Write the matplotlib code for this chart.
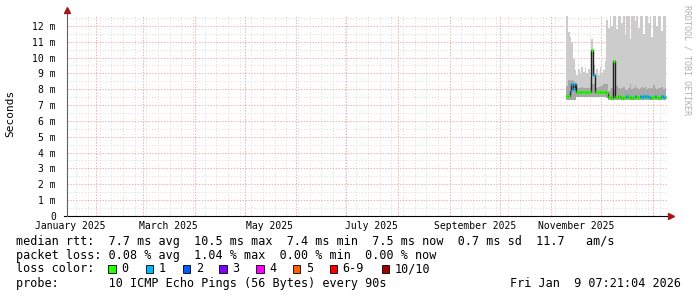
import numpy as np
import matplotlib
matplotlib.use("Agg")
import matplotlib.pyplot as plt
import matplotlib.dates as mdates
from matplotlib.patches import Rectangle
from matplotlib.ticker import MultipleLocator, FuncFormatter

# graph window: last 360 days up to the timestamp in the legend
t_start = np.datetime64("2025-01-14T07:21:04")
t_end = np.datetime64("2026-01-09T07:21:04")

# one sample per day from this day on
first_day = np.datetime64("2025-11-10")

# median rtt in ms
rtt_median = [7.55, 7.6, 7.9, 8.3, 8.0, 8.35, 7.85, 7.85, 7.8, 7.85,
              7.85, 7.8, 7.85, 7.85, 7.8, 10.5, 8.9, 7.85, 7.8, 7.85,
              7.85, 7.8, 7.85, 7.8, 7.75, 7.5, 7.5, 7.45, 9.8, 7.5,
              7.5, 7.55, 7.5, 7.45, 7.5, 7.5, 7.55, 7.5, 7.5, 7.45,
              7.5, 7.55, 7.5, 7.5, 7.55, 7.5, 7.55, 7.5, 7.55, 7.5,
              7.45, 7.5, 7.5, 7.55, 7.5, 7.45, 7.5, 7.55, 7.5, 7.5]
# loss bin index per sample (0 = no loss, 1 = 1/10)
rtt_loss = [0, 0, 1, 1, 1, 1, 0, 0, 0, 0,
            0, 0, 0, 0, 0, 0, 1, 0, 0, 0,
            0, 0, 0, 0, 0, 0, 0, 0, 0, 0,
            0, 0, 0, 0, 0, 0, 1, 0, 0, 0,
            0, 1, 0, 0, 1, 1, 1, 0, 1, 1,
            0, 0, 0, 1, 0, 0, 0, 1, 1, 0]
# smoke: lowest ping, upper edge of dense band, highest ping (ms)
smoke_min = [7.3, 7.3, 7.3, 7.3, 7.3, 7.3, 7.5, 7.5, 7.5, 7.5,
             7.5, 7.5, 7.5, 7.5, 7.5, 7.5, 7.5, 7.5, 7.5, 7.5,
             7.5, 7.5, 7.5, 7.5, 7.45, 7.35, 7.35, 7.35, 7.35, 7.35,
             7.35, 7.35, 7.35, 7.35, 7.35, 7.35, 7.35, 7.35, 7.35, 7.35,
             7.35, 7.35, 7.35, 7.35, 7.35, 7.35, 7.35, 7.35, 7.35, 7.35,
             7.35, 7.35, 7.35, 7.35, 7.35, 7.35, 7.35, 7.35, 7.35, 7.35]
smoke_mid = [8.2, 8.6, 8.5, 8.6, 8.5, 8.4, 8.1, 8.05, 8.1, 8.15,
             8.1, 8.05, 8.1, 8.1, 8.15, 8.3, 8.3, 8.1, 8.1, 8.15,
             8.2, 8.2, 8.3, 8.35, 8.3, 7.9, 8.0, 8.1, 7.95, 8.0,
             8.2, 8.05, 8.0, 8.1, 8.15, 8.0, 7.95, 8.05, 8.3, 8.0,
             8.1, 8.2, 8.05, 8.0, 8.1, 8.15, 8.05, 8.2, 8.0, 8.1,
             8.0, 8.05, 8.25, 8.1, 8.0, 8.05, 8.1, 8.15, 8.0, 8.1]
smoke_max = [12.6, 11.6, 11.3, 11.0, 9.9, 9.2, 8.9, 9.3, 9.0, 9.4,
             9.1, 9.4, 9.0, 9.3, 8.8, 11.2, 9.5, 9.0, 9.3, 8.9,
             9.4, 9.0, 9.2, 9.8, 12.4, 11.9, 12.6, 12.0, 12.6, 12.6,
             11.8, 12.6, 12.6, 12.2, 12.6, 11.4, 12.6, 12.6, 11.2, 12.6,
             12.6, 12.3, 12.6, 11.9, 12.6, 12.6, 11.5, 12.6, 12.6, 12.2,
             12.6, 11.3, 12.6, 12.6, 12.0, 12.6, 12.6, 11.7, 12.6, 12.6]

month_labels = ["January 2025", "March 2025", "May 2025", "July 2025",
                "September 2025", "November 2025"]
month_label_days = ["2025-01-16", "2025-03-16", "2025-05-16", "2025-07-16",
                    "2025-09-16", "2025-11-16"]

loss_names = ["0", "1", "2", "3", "4", "5", "6-9", "10/10"]
loss_colors = ["#26ff00", "#00b8ff", "#0059ff", "#7e00ff",
               "#ff00ff", "#ff5e00", "#ff0000", "#a10000"]

median_line = "median rtt:  7.7 ms avg  10.5 ms max  7.4 ms min  7.5 ms now  0.7 ms sd  11.7   am/s"
loss_line = "packet loss: 0.08 % avg  1.04 % max  0.00 % min  0.00 % now"
probe_line = "probe:       10 ICMP Echo Pings (56 Bytes) every 90s"
stamp = "Fri Jan  9 07:21:04 2026"

MONO = "DejaVu Sans Mono"
W, H = 697, 297


def fx(x):
    return x / W


def fy(y):
    return 1 - y / H


fig = plt.figure(figsize=(W / 100, H / 100), dpi=100)
ax = fig.add_axes([fx(67), fy(215.8), 600 / W, 200 / H])
ax.set_xlim(mdates.date2num(t_start), mdates.date2num(t_end))
ax.set_ylim(0, 12.64)

edges = mdates.date2num(first_day + np.arange(len(rtt_median) + 1).astype("timedelta64[D]"))

# smoke
ax.stairs(smoke_max, edges, baseline=smoke_min, fill=True, color="#cccccc", lw=0, zorder=2)
ax.stairs(smoke_mid, edges, baseline=smoke_min, fill=True, color="#a8a8a8", lw=0, zorder=2)
# median: thin dark line, loss-coloured caps
ax.stairs(rtt_median, edges, baseline=None, color="#202020", lw=1.0, zorder=3)
ax.hlines(rtt_median, edges[:-1], edges[1:], colors=[loss_colors[l] for l in rtt_loss],
          lw=2.3, zorder=4)

# grid
ax.xaxis.set_major_locator(mdates.MonthLocator())
ax.xaxis.set_minor_locator(mdates.WeekdayLocator(byweekday=mdates.MO))
ax.yaxis.set_major_locator(MultipleLocator(1))
ax.yaxis.set_minor_locator(MultipleLocator(0.5))
ax.grid(which="major", color="#f2b0b0", lw=0.7, ls=(0, (1.5, 1.5)), zorder=1)
ax.grid(which="minor", color="#dadada", lw=0.7, ls=(0, (1, 2)), zorder=1)
ax.set_axisbelow(True)
ax.tick_params(axis="x", which="both", length=0, labelbottom=False)
ax.tick_params(axis="y", which="both", length=0, pad=8, labelsize=7)
ax.yaxis.set_major_formatter(FuncFormatter(lambda v, _: "0" if v == 0 else f"{v:.0f} m"))
for lab in ax.get_yticklabels():
    lab.set_family(MONO)
for s in ax.spines.values():
    s.set_visible(False)

# axes with arrows
ax.plot([-0.005, 1.006], [0, 0], transform=ax.transAxes, color="#000000", lw=0.8, clip_on=False, zorder=5)
ax.plot([1.006], [0], transform=ax.transAxes, marker=">", ms=4, color="#a01818", clip_on=False, zorder=5)
ax.plot([0, 0], [0, 1.027], transform=ax.transAxes, color="#606060", lw=0.8, clip_on=False, zorder=5)
ax.plot([0], [1.027], transform=ax.transAxes, marker="^", ms=4, color="#a01818", clip_on=False, zorder=5)

for lab, day in zip(month_labels, month_label_days):
    ax.text(mdates.date2num(np.datetime64(day)), -0.05, lab, transform=ax.get_xaxis_transform(),
            ha="center", va="center", family=MONO, size=7)

fig.text(fx(10), fy(113), "Seconds", rotation=90, ha="center", va="center", family=MONO, size=8)
fig.text(fx(687), fy(60), "RRDTOOL / TOBI OETIKER", rotation=-90, ha="center", va="center",
         family=MONO, size=6, color="#b0b0b0")

# legend
fig.text(fx(16), fy(241), median_line, va="center", family=MONO, size=8.5)
fig.text(fx(16), fy(255), loss_line, va="center", family=MONO, size=8.5)
fig.text(fx(16), fy(269), "loss color:", va="center", family=MONO, size=8.5)
box_x = [108.3, 145.7, 182.7, 219.3, 256, 292.7, 329.5, 381.5]
for bx, name, c in zip(box_x, loss_names, loss_colors):
    fig.add_artist(Rectangle((fx(bx), fy(272.5)), 7.5 / W, 7.5 / H, transform=fig.transFigure,
                             facecolor=c, edgecolor="black", lw=0.6))
    fig.text(fx(bx + 13), fy(269), name, va="center", family=MONO, size=8.5)
fig.text(fx(16), fy(283.3), probe_line, va="center", family=MONO, size=8.5)
fig.text(fx(681), fy(283.3), stamp, va="center", ha="right", family=MONO, size=8.5)

fig.savefig("out.png", dpi=100, facecolor="white")
